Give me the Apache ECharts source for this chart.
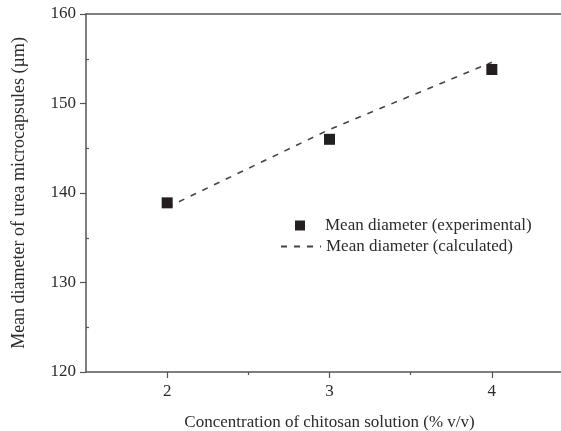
<!DOCTYPE html>
<html>
<head>
<meta charset="utf-8">
<script src="https://cdn.jsdelivr.net/npm/echarts@6/dist/echarts.min.js"></script>
<style>
  html, body { margin: 0; padding: 0; background: #fff; }
  #chart { width: 561px; height: 431px; }
</style>
</head>
<body>
<div id="chart"></div>
<script>
// concentration of chitosan (% v/v)
const concentration = [2, 3, 4]
// measured mean diameter (um)
const diameterExperimental = [138.9, 146.0, 153.8]
// calculated mean diameter (um)
const diameterCalculated = [138.4, 147.1, 154.6]
const yTicks = [120, 130, 140, 150, 160]
const yMinorTicks = [125, 135, 145, 155]
const xMinorTicks = [2.5, 3.5]

const serif = '"Liberation Serif", "DejaVu Serif", serif'
const axisColor = '#555'
const textColor = '#2b2b2b'

const chart = echarts.init(document.getElementById('chart'))

const option = {
  backgroundColor: '#fff',
  animation: false,
  grid: {
    left: 86,
    top: 14,
    right: -12,
    bottom: 59,
    outerBoundsMode: 'none'
  },
  legend: [
    {
      data: ['Mean diameter (experimental)'],
      orient: 'vertical',
      left: 290,
      top: 212,
      icon: 'rect',
      itemWidth: 10,
      itemHeight: 10,
      itemStyle: { opacity: 1 },
      textStyle: { fontFamily: serif, fontSize: 17, color: textColor, padding: [0, 0, 0, 15] }
    },
    {
      data: ['Mean diameter (calculated)'],
      orient: 'vertical',
      left: 275,
      top: 233,
      itemWidth: 40,
      itemHeight: 12,
      itemStyle: { color: 'rgba(0,0,0,0)', borderWidth: 0 },
      textStyle: { fontFamily: serif, fontSize: 17, color: textColor }
    }
  ],
  xAxis: [
    {
      type: 'value',
      min: 1.5,
      max: 4.5,
      position: 'bottom',
      name: 'Concentration of chitosan solution (% v/v)',
      nameLocation: 'middle',
      nameGap: 42,
      nameTextStyle: { fontFamily: serif, fontSize: 17, color: textColor },
      axisLine: { lineStyle: { color: axisColor, width: 1.5 } },
      axisTick: { length: 6, customValues: concentration, lineStyle: { color: axisColor, width: 1.2 } },
      axisLabel: {
        fontFamily: serif, fontSize: 17, color: textColor, margin: 11,
        customValues: concentration
      },
      splitLine: { show: false }
    },
    {
      type: 'value',
      min: 1.5,
      max: 4.5,
      position: 'top',
      axisLine: { show: true, lineStyle: { color: axisColor, width: 1.5 } },
      axisTick: { show: false },
      axisLabel: { show: false },
      splitLine: { show: false }
    },
    {
      type: 'value',
      min: 1.5,
      max: 4.5,
      position: 'bottom',
      offset: 0,
      axisLine: { show: false },
      axisTick: { length: 3, customValues: xMinorTicks, lineStyle: { color: axisColor, width: 1.2 } },
      axisLabel: { show: false },
      splitLine: { show: false }
    }
  ],
  yAxis: [
    {
      type: 'value',
      min: yTicks[0],
      max: yTicks[yTicks.length - 1],
      interval: 10,
      position: 'left',
      name: 'Mean diameter of urea microcapsules (\u00b5m)',
      nameLocation: 'middle',
      nameGap: 58,
      nameTextStyle: { fontFamily: serif, fontSize: 18, color: textColor },
      axisLine: { show: true, lineStyle: { color: axisColor, width: 1.5 } },
      axisTick: { length: 6, lineStyle: { color: axisColor, width: 1.2 } },
      axisLabel: { fontFamily: serif, fontSize: 17, color: textColor, margin: 10 },
      splitLine: { show: false }
    },
    {
      type: 'value',
      min: yTicks[0],
      max: yTicks[yTicks.length - 1],
      position: 'left',
      offset: 0,
      axisLine: { show: false },
      axisTick: { inside: true, length: 3, customValues: yMinorTicks, lineStyle: { color: axisColor, width: 1.2 } },
      axisLabel: { show: false },
      splitLine: { show: false }
    }
  ],
  series: [
    {
      name: 'Mean diameter (calculated)',
      type: 'line',
      xAxisIndex: 0,
      yAxisIndex: 0,
      data: concentration.map((c, i) => [c, diameterCalculated[i]]),
      symbol: 'none',
      lineStyle: { color: '#444', width: 1.6, type: [6, 7] },
      itemStyle: { color: '#444' },
      z: 2
    },
    {
      name: 'Mean diameter (experimental)',
      type: 'scatter',
      xAxisIndex: 0,
      yAxisIndex: 0,
      data: concentration.map((c, i) => [c, diameterExperimental[i]]),
      symbol: 'rect',
      symbolSize: 11,
      itemStyle: { color: '#231f20', opacity: 1 },
      z: 3
    }
  ]
}

chart.setOption(option)
</script>
</body>
</html>
